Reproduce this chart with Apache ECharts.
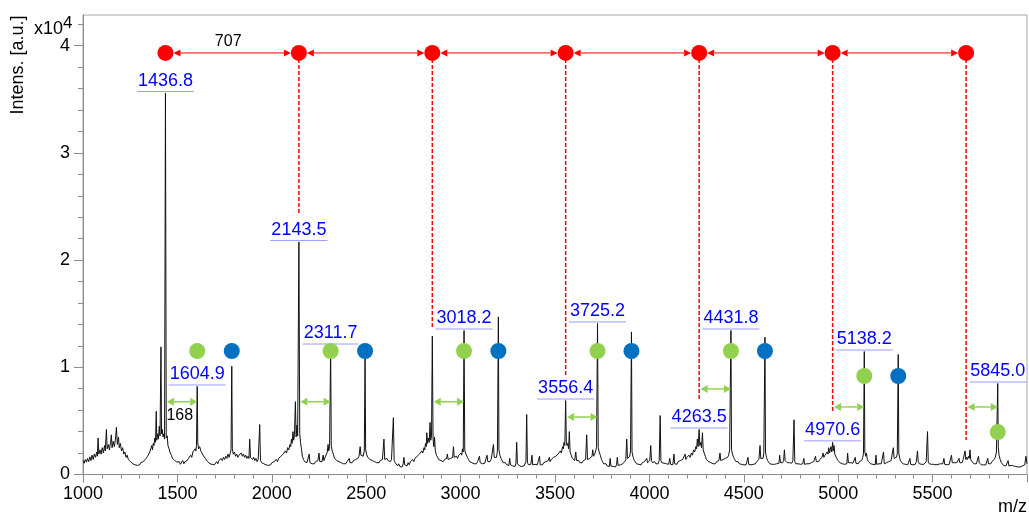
<!DOCTYPE html>
<html><head><meta charset="utf-8">
<script src="https://cdn.jsdelivr.net/npm/echarts@6/dist/echarts.min.js"></script>
<style>html,body{margin:0;padding:0;background:#fff}#c{width:1029px;height:516px}</style>
</head><body><div id="c"></div>
<script>
// ---- spectrum: [m/z, intensity] ----
const spec1000 = [[1000,1300],[1006,1050],[1012,1400],[1018,1150],[1024,1500],[1030,1200],[1036,1650],[1042,1300],[1048,1800],[1054,1400],[1060,1900],[1066,1600],[1072,2100],[1076,1700],[1080,3400],[1084,1900],[1090,2300],[1096,1900],[1102,2500],[1108,2000],[1114,2700],[1118,2200],[1124,4200],[1128,2400],[1134,2800],[1140,2300],[1146,3000],[1150,3700],[1154,2500],[1160,3100],[1166,2600],[1172,3300],[1177,4400],[1182,2800],[1188,3500],[1192,2500],[1198,2900],[1204,2200],[1210,2500],[1216,1900],[1222,2100],[1228,1600],[1234,1800],[1240,1400],[1246,1500],[1252,1200],[1258,1300],[1264,1000],[1270,1100],[1276,900],[1282,1050],[1288,850],[1294,1000],[1300,900],[1306,1100],[1312,950],[1318,1200],[1324,1100],[1330,1400],[1336,1300],[1342,1700],[1348,1600],[1354,2100],[1360,2000],[1364,2700],[1368,2300],[1372,2900],[1376,2700],[1380,3400],[1384,3000],[1388,5900],[1391,3200],[1396,3800],[1400,3300],[1404,4500],[1408,3600],[1413,11900],[1416,3800],[1420,4200],[1424,3500],[1428,3800],[1432,3300],[1436.8,35590],[1441,3400],[1446,3600],[1450,2700],[1456,2400],[1462,2000],[1468,1800],[1474,1500],[1480,1600],[1486,1300],[1492,1400],[1498,1150]];
const spec1500 = [[1504,1000],[1510,1200],[1516,950],[1522,1100],[1528,1300],[1534,1000],[1540,1200],[1546,1050],[1552,1300],[1558,1500],[1564,1400],[1570,1800],[1576,1600],[1582,2100],[1588,2000],[1594,2400],[1598,2200],[1601,2700],[1604.9,8210],[1608,2900],[1612,2400],[1618,2600],[1624,2200],[1630,2300],[1636,1800],[1642,1900],[1648,1500],[1654,1400],[1660,1200],[1666,1300],[1672,1000],[1678,1150],[1684,950],[1690,1100],[1696,900],[1702,1050],[1708,1200],[1714,1000],[1720,1300],[1726,1200],[1732,1500],[1738,1300],[1744,1600],[1750,1400],[1756,1700],[1762,1500],[1768,1900],[1774,1600],[1780,2000],[1784,2300],[1788,10100],[1791,2400],[1796,1900],[1802,2100],[1808,1700],[1814,1900],[1820,1600],[1826,1800],[1832,1700],[1838,2000],[1844,1700],[1850,1900],[1856,1600],[1862,1800],[1868,1500],[1874,1700],[1879,1500],[1883,3300],[1887,1600],[1892,1700],[1898,1400],[1904,1600],[1910,1300],[1916,1500],[1922,1200],[1928,1400],[1932,1300],[1936,4660],[1940,1300],[1946,1100],[1952,1200],[1958,1000],[1964,1100],[1970,900],[1976,1050],[1982,850],[1988,1000],[1994,900]];
const spec2000 = [[2000,1100],[2006,950],[2012,1200],[2018,1100],[2024,1400],[2030,1200],[2036,1500],[2042,1400],[2048,1700],[2054,1600],[2060,1900],[2066,1800],[2072,2200],[2078,2000],[2084,2500],[2090,2300],[2096,2800],[2100,2600],[2104,3300],[2108,2900],[2112,4000],[2116,3200],[2120,3700],[2125,6800],[2129,3500],[2133,4600],[2137,3600],[2143.5,21690],[2148,3800],[2152,3000],[2157,2400],[2162,1700],[2168,1400],[2174,1200],[2180,1300],[2186,1100],[2192,1200],[2198,1900],[2202,1100],[2208,1200],[2214,1000],[2220,1150],[2226,1000],[2232,1200],[2238,1100],[2244,1300],[2250,2000],[2254,1200],[2260,1300],[2266,1200],[2272,1800],[2276,1300],[2282,1600],[2288,1500],[2294,2100],[2298,2800],[2302,2200],[2306,2600],[2311.7,12030],[2315,2700],[2320,2200],[2326,1900],[2332,1500],[2338,1600],[2344,1300],[2350,1400],[2356,1200],[2362,1300],[2368,1100],[2374,1200],[2380,1000],[2386,1150],[2392,1000],[2398,1200],[2404,1050],[2410,1500],[2414,1100],[2420,1250],[2426,1100],[2432,1300],[2438,1200],[2444,1400],[2450,1300],[2456,1500],[2462,1700],[2468,2600],[2472,1800],[2478,1900],[2484,1700],[2490,2200],[2494,11200],[2497,2300]];
const spec2500 = [[2502,1900],[2508,1600],[2514,1500],[2520,1400],[2526,1500],[2532,1300],[2538,1400],[2544,1200],[2550,1300],[2556,1100],[2562,1250],[2568,1100],[2574,1300],[2580,1200],[2586,1400],[2590,1300],[2594,3300],[2598,1400],[2604,1300],[2610,1500],[2616,1300],[2622,1400],[2628,1200],[2634,1400],[2640,1500],[2644,5300],[2648,1300],[2654,1100],[2660,1000],[2666,800],[2672,1000],[2678,750],[2684,900],[2690,700],[2696,1000],[2700,1600],[2704,900],[2710,1000],[2716,800],[2722,1100],[2728,900],[2734,1200],[2740,1100],[2746,1400],[2752,1200],[2758,1500],[2764,1400],[2770,1700],[2776,1600],[2782,1900],[2788,1800],[2794,2200],[2800,2000],[2806,2500],[2810,2300],[2814,2900],[2818,2600],[2821,3900],[2825,2900],[2830,3400],[2834,3000],[2838,4850],[2842,3200],[2846,3600],[2850.2,12900],[2854,3400],[2858,2600],[2862,3500],[2866,2200],[2872,1800],[2878,1600],[2884,1400],[2890,1500],[2896,1300],[2902,1400],[2908,1200],[2914,1400],[2920,1300],[2926,1500],[2930,1900],[2934,1400],[2940,1300],[2946,1500],[2952,1400],[2958,1600],[2962,2600],[2966,1600],[2972,1500],[2978,1700],[2984,1500],[2990,1800],[2996,1700]];
const spec3000 = [[3002,2000],[3006,1800],[3010,2400],[3014,2100],[3018.2,13430],[3022,2300],[3026,2000],[3030,1900],[3036,1600],[3042,1400],[3048,1200],[3054,1300],[3060,1100],[3066,1200],[3072,1000],[3078,1150],[3084,1000],[3090,1200],[3096,1100],[3100,1700],[3104,1100],[3110,1200],[3116,1000],[3122,1150],[3128,1050],[3134,1200],[3140,1800],[3144,1200],[3150,1300],[3156,1200],[3162,1400],[3168,1500],[3174,2800],[3178,1600],[3184,1700],[3190,1600],[3195,2200],[3200,14700],[3203,2300],[3208,1800],[3214,1500],[3220,1300],[3226,1100],[3232,1000],[3238,1100],[3244,900],[3250,1000],[3256,850],[3260,1500],[3264,900],[3270,950],[3276,800],[3282,900],[3288,750],[3293,1000],[3297,3000],[3301,1000],[3306,900],[3312,800],[3318,900],[3324,750],[3330,850],[3336,800],[3342,950],[3346,1200],[3350,5600],[3354,1100],[3360,900],[3366,800],[3372,950],[3378,1800],[3382,900],[3388,850],[3394,950],[3400,800],[3406,900],[3412,850],[3418,1700],[3422,900],[3428,1000],[3434,900],[3440,1100],[3446,1000],[3452,1200],[3458,1100],[3464,1300],[3470,1600],[3474,1200],[3480,1400],[3486,1300],[3492,1600],[3498,1500]];
const spec3500 = [[3504,1700],[3510,1600],[3516,1900],[3522,1800],[3528,2200],[3534,2000],[3540,2600],[3544,2400],[3548,3000],[3552,2700],[3556.4,6900],[3560,3100],[3564,2700],[3568,2900],[3572,2400],[3576,4000],[3580,2100],[3586,1800],[3592,1500],[3598,1400],[3604,1300],[3610,2100],[3614,1300],[3620,1200],[3626,1300],[3632,1100],[3638,1200],[3644,1100],[3650,1300],[3656,1200],[3662,1400],[3668,3700],[3672,1400],[3678,1300],[3684,1500],[3690,1400],[3696,1700],[3700,2300],[3704,1700],[3710,1900],[3716,2200],[3720,2600],[3725.2,14090],[3729,2500],[3734,2100],[3740,1800],[3746,1400],[3752,1200],[3758,1000],[3764,900],[3770,1000],[3776,800],[3782,900],[3788,750],[3792,1500],[3796,800],[3802,900],[3808,750],[3814,850],[3820,700],[3826,900],[3830,1600],[3834,850],[3840,800],[3846,900],[3852,850],[3858,1000],[3864,950],[3870,1200],[3875,1400],[3880,3300],[3884,1500],[3890,1400],[3896,1700],[3900,2200],[3905,13300],[3908,2100],[3914,1600],[3920,1300],[3926,1200],[3932,1000],[3938,1100],[3944,950],[3950,1050],[3956,900],[3962,1100],[3968,1000],[3974,1200],[3980,1100],[3986,1500],[3990,1100],[3996,1200]];
const spec4000 = [[4002,1300],[4007,2700],[4011,1300],[4016,1100],[4022,1000],[4028,1200],[4034,1000],[4040,1100],[4046,1000],[4052,1300],[4057,5500],[4061,1300],[4066,1100],[4072,950],[4078,1050],[4084,900],[4090,1000],[4096,850],[4102,950],[4108,1500],[4112,950],[4118,1000],[4124,900],[4130,1900],[4134,1000],[4140,1100],[4146,950],[4152,1200],[4158,1100],[4164,1300],[4170,1200],[4176,1400],[4182,1300],[4189,1900],[4193,1400],[4198,1600],[4204,1500],[4210,1800],[4216,1600],[4222,2000],[4228,1800],[4234,2300],[4240,2100],[4246,2600],[4250,2400],[4254,3300],[4258,2600],[4263.5,4200],[4267,2700],[4272,3000],[4276,2500],[4281,3900],[4285,2300],[4290,2000],[4296,1700],[4302,1400],[4308,1300],[4314,1200],[4320,1300],[4326,1100],[4332,1200],[4338,1000],[4344,1100],[4350,1000],[4356,1200],[4362,1100],[4368,1300],[4374,2000],[4378,1300],[4384,1200],[4390,1400],[4396,1300],[4402,1500],[4408,1400],[4414,1600],[4420,1800],[4425,2300],[4431.8,13430],[4435,2300],[4440,1900],[4446,1600],[4452,1400],[4458,1200],[4464,1100],[4470,1200],[4476,1000],[4482,1100],[4488,950],[4494,1000]];
const spec4500 = [[4500,900],[4506,1000],[4512,900],[4518,1000],[4522,1600],[4526,950],[4532,1000],[4538,900],[4544,1050],[4550,950],[4556,1100],[4562,1000],[4568,1200],[4574,1100],[4580,1400],[4586,2700],[4590,1500],[4596,1600],[4602,1500],[4606,2000],[4612,12800],[4615,2100],[4620,1600],[4626,1300],[4632,1200],[4638,1000],[4644,1100],[4650,950],[4656,1050],[4662,950],[4668,1100],[4674,1000],[4680,1150],[4686,1050],[4690,1800],[4694,1100],[4700,1200],[4706,1100],[4711,1300],[4715,2300],[4719,1300],[4724,1200],[4730,1100],[4736,1250],[4742,1100],[4748,1200],[4754,1050],[4760,1300],[4766,5100],[4770,1200],[4776,1000],[4782,900],[4788,1000],[4794,850],[4800,950],[4806,850],[4812,1000],[4818,1500],[4822,950],[4828,900],[4834,1000],[4840,900],[4846,1000],[4852,950],[4858,1100],[4864,1000],[4870,1200],[4876,1100],[4880,1700],[4884,1200],[4890,1300],[4896,1200],[4902,1400],[4908,1300],[4914,1600],[4920,2000],[4924,1600],[4930,1800],[4936,1700],[4942,2100],[4946,1900],[4950,2500],[4954,2000],[4958,2300],[4962,2600],[4966,2100],[4970.6,3000],[4974,2200],[4978,2700],[4982,1900],[4986,1800],[4992,1500],[4998,1300]];
const spec5000 = [[5004,1200],[5010,1100],[5016,1200],[5022,1000],[5028,1100],[5034,950],[5040,1100],[5046,1000],[5050,2000],[5054,1100],[5060,1000],[5066,1100],[5072,950],[5078,1050],[5084,1000],[5090,1600],[5094,1050],[5100,1100],[5106,1000],[5112,1200],[5118,1100],[5124,1300],[5130,1600],[5134,2000],[5138.2,11470],[5141,2100],[5146,1700],[5150,2000],[5154,1400],[5160,1200],[5166,1100],[5172,1000],[5178,1100],[5184,950],[5190,1000],[5196,900],[5200,1800],[5204,950],[5210,900],[5216,1000],[5222,900],[5228,1000],[5234,950],[5240,2100],[5244,1000],[5250,950],[5256,1100],[5262,1000],[5268,1200],[5274,1100],[5280,1300],[5286,1400],[5292,2500],[5296,1500],[5302,1400],[5308,1600],[5313,1900],[5318,11200],[5321,2000],[5326,1500],[5332,1200],[5338,1100],[5344,1000],[5350,1100],[5356,950],[5362,1050],[5368,900],[5374,1000],[5380,1500],[5384,950],[5390,1000],[5396,900],[5402,1000],[5408,950],[5414,1200],[5420,2200],[5424,1200],[5430,1000],[5436,1100],[5442,950],[5448,1050],[5454,950],[5460,1100],[5466,1200],[5473,4000],[5477,1200],[5482,1000],[5488,900],[5494,950]];
const spec5500 = [[5500,850],[5506,950],[5512,800],[5518,900],[5524,800],[5530,950],[5536,850],[5542,1000],[5548,900],[5554,1000],[5560,1500],[5564,950],[5570,1000],[5576,900],[5582,1050],[5588,950],[5594,1100],[5600,1800],[5604,1100],[5610,1000],[5616,1100],[5622,1000],[5628,1100],[5634,1000],[5640,1500],[5644,1100],[5650,1200],[5656,1100],[5662,1400],[5666,1300],[5672,2200],[5676,1400],[5680,1600],[5684,1400],[5690,1700],[5694,1500],[5698,2300],[5702,1400],[5708,1200],[5714,1100],[5720,1000],[5726,1100],[5732,1000],[5738,1100],[5743,1700],[5747,1100],[5752,1000],[5758,900],[5764,1000],[5770,900],[5776,1000],[5782,900],[5788,1000],[5792,1500],[5796,1000],[5802,1100],[5808,1000],[5814,1200],[5820,1100],[5826,1400],[5832,1600],[5838,2100],[5845.0,8490],[5848,2500],[5852,1800],[5858,1400],[5864,1100],[5870,1000],[5876,850],[5882,900],[5888,800],[5894,850],[5900,1300],[5904,800],[5910,750],[5916,850],[5922,700],[5928,800],[5934,650],[5940,750],[5946,650],[5952,700],[5958,600],[5964,700],[5970,650],[5976,800],[5982,700],[5988,900],[5994,1700],[6000,1000]];

// ---- annotations ----
const labelMz   = [1436.8, 1604.9, 2143.5, 2311.7, 3018.2, 3556.4, 3725.2, 4263.5, 4431.8, 4970.6, 5138.2, 5845.0];
const redMz     = [1436.8, 2143.5, 2850.2, 3556.4, 4263.5, 4970.6, 5677.5];
const redDotI   = 39320;
const redDashEndI = [null, 24200, 13670, 9280, 6950, 5740, 3220];
const greenMz   = [1604.9, 2311.7, 3018.2, 3725.2, 4431.8, 5138.2, 5845.0];
const greenI    = [11520, 11520, 11520, 11520, 11520, 9190, 3960];
const blueMz    = [1788, 2494, 3200, 3905, 4612, 5318];
const blueI     = [11520, 11520, 11520, 11520, 11520, 9190];
const greenArrowI = [6790, 6790, 6790, 5360, 7980, 6300, 6300];
const spacingText = '707';
const diffText = '168';

// ---- axes ----
const xMin = 1000, xMax = 6000, xStep = 500;
const yMax = 42860;
const yMajorTicks = [0, 10000, 20000, 30000, 40000];
const yMinorTicks = [2000, 4000, 6000, 8000, 12000, 14000, 16000, 18000, 22000, 24000, 26000, 28000, 32000, 34000, 36000, 38000, 42000];

const FONT = '"Liberation Sans", Arial, sans-serif';
const spectrum = [].concat(spec1000, spec1500, spec2000, spec2500, spec3000, spec3500, spec4000, spec4500, spec5000, spec5500);
const lookup = mz => { const p = spectrum.find(d => Math.abs(d[0] - mz) < 1e-6); return p ? p[1] : 0; };

const mctx = document.createElement('canvas').getContext('2d');
mctx.font = '18px ' + FONT;
const tw = t => mctx.measureText(t).width;

const chart = echarts.init(document.getElementById('c'), null, {renderer: 'canvas'});

function arrowShapes(x1, x2, y, color, lw, head, half) {
  return [
    {type: 'line', shape: {x1: x1 + head, y1: y, x2: x2 - head, y2: y}, style: {stroke: color, lineWidth: lw}},
    {type: 'polygon', shape: {points: [[x1, y], [x1 + head, y - half], [x1 + head, y + half]]}, style: {fill: color}},
    {type: 'polygon', shape: {points: [[x2, y], [x2 - head, y - half], [x2 - head, y + half]]}, style: {fill: color}}
  ];
}

const option = {
  animation: false,
  backgroundColor: '#fff',
  grid: {left: 83, right: 2, top: 15, bottom: 41.5, show: true, borderColor: '#a6a6a6', borderWidth: 1, containLabel: false},
  xAxis: {
    type: 'value', min: xMin, max: xMax, interval: xStep,
    axisLine: {lineStyle: {color: '#8c8c8c'}},
    axisTick: {length: 8, lineStyle: {color: '#8c8c8c'}},
    minorTick: {show: true, splitNumber: 5, length: 4, lineStyle: {color: '#8c8c8c'}},
    splitLine: {show: false},
    axisLabel: {color: '#000', fontSize: 18, fontFamily: FONT, margin: 11, showMaxLabel: false, formatter: v => String(v)}
  },
  yAxis: [{
    type: 'value', min: 0, max: yMax, interval: 10000,
    axisLine: {show: true, lineStyle: {color: '#8c8c8c'}},
    axisTick: {show: true, length: 9, customValues: yMajorTicks, lineStyle: {color: '#8c8c8c'}},
    splitLine: {show: false},
    axisLabel: {color: '#000', fontSize: 18, fontFamily: FONT, margin: 13, customValues: yMajorTicks, formatter: v => String(v / 10000)}
  }, {
    type: 'value', min: 0, max: yMax, position: 'left',
    axisLine: {show: false},
    axisTick: {show: true, length: 5, customValues: yMinorTicks, lineStyle: {color: '#8c8c8c'}},
    splitLine: {show: false},
    axisLabel: {show: false}
  }],
  graphic: [
    {type: 'text', x: 34, y: 20, style: {text: 'x10', font: '18px ' + FONT, fill: '#000', verticalAlign: 'top'}},
    {type: 'text', x: 63, y: 15, style: {text: '4', font: '17px ' + FONT, fill: '#000', verticalAlign: 'top'}},
    {type: 'text', x: 18, y: 65, rotation: Math.PI / 2, style: {text: 'Intens. [a.u.]', font: '18px ' + FONT, fill: '#000', align: 'center', verticalAlign: 'middle'}},
    {type: 'text', x: 1027, y: 507, style: {text: 'm/z', font: '18px ' + FONT, fill: '#000', align: 'right', verticalAlign: 'middle'}}
  ],
  series: [
    {
      type: 'line', data: spectrum, showSymbol: false, symbol: 'none', sampling: 'none',
      lineStyle: {color: '#111', width: 1}, z: 2
    },
    {
      type: 'custom', z: 3,
      data: redMz.map((m, i) => [m, redDotI, redDashEndI[i] == null ? redDotI : redDashEndI[i]]),
      renderItem: (params, api) => {
        const a = api.coord([api.value(0), api.value(1)]);
        const b = api.coord([api.value(0), api.value(2)]);
        return {type: 'line', shape: {x1: a[0], y1: a[1], x2: b[0], y2: b[1]}, style: {stroke: '#ff0000', lineWidth: 1.5, lineDash: [4, 2]}};
      }
    },
    {
      type: 'custom', z: 4,
      data: redMz.slice(0, -1).map((m, i) => [m, redDotI, redMz[i + 1]]),
      renderItem: (params, api) => {
        const a = api.coord([api.value(0), api.value(1)]);
        const b = api.coord([api.value(2), api.value(1)]);
        const kids = arrowShapes(a[0] + 8, b[0] - 8, a[1], '#ff0000', 1, 7, 3.5);
        if (params.dataIndex === 0) {
          kids.push({type: 'text', style: {text: spacingText, x: (a[0] + b[0]) / 2 - 4, y: a[1] - 3, font: '16px ' + FONT, fill: '#000', align: 'center', verticalAlign: 'bottom'}});
        }
        return {type: 'group', children: kids};
      }
    },
    {
      type: 'custom', z: 4,
      data: greenMz.map((m, i) => [redMz[i], greenArrowI[i], m]),
      renderItem: (params, api) => {
        const a = api.coord([api.value(0), api.value(1)]);
        const b = api.coord([api.value(2), api.value(1)]);
        const kids = arrowShapes(a[0] + 1.5, b[0], a[1], '#92d050', 1.5, 7, 4);
        if (params.dataIndex === 0) {
          kids.push({type: 'text', style: {text: diffText, x: a[0] + 1, y: a[1] + 6, font: '16px ' + FONT, fill: '#000', align: 'left', verticalAlign: 'top'}});
        }
        return {type: 'group', children: kids};
      }
    },
    {
      type: 'custom', z: 5,
      data: labelMz.map(m => [m, lookup(m)]),
      renderItem: (params, api) => {
        const p = api.coord([api.value(0), api.value(1)]);
        const txt = labelMz[params.dataIndex].toFixed(1);
        const w = tw(txt);
        return {type: 'group', children: [
          {type: 'line', shape: {x1: p[0] - w / 2 - 1, y1: p[1] - 1.5, x2: p[0] + w / 2 + 1, y2: p[1] - 1.5}, style: {stroke: '#9b9bff', lineWidth: 1}},
          {type: 'text', style: {text: txt, x: p[0], y: p[1] - 3, font: '18px ' + FONT, fill: '#0000ff', align: 'center', verticalAlign: 'bottom'}}
        ]};
      }
    },
    {type: 'scatter', z: 6, data: redMz.map(m => [m, redDotI]), symbol: 'circle', symbolSize: 16, itemStyle: {color: '#ff0000', opacity: 1}},
    {type: 'scatter', z: 6, data: greenMz.map((m, i) => [m, greenI[i]]), symbol: 'circle', symbolSize: 16, itemStyle: {color: '#92d050', opacity: 1}},
    {type: 'scatter', z: 6, data: blueMz.map((m, i) => [m, blueI[i]]), symbol: 'circle', symbolSize: 16, itemStyle: {color: '#0070c0', opacity: 1}}
  ]
};
chart.setOption(option);
</script>
</body></html>
